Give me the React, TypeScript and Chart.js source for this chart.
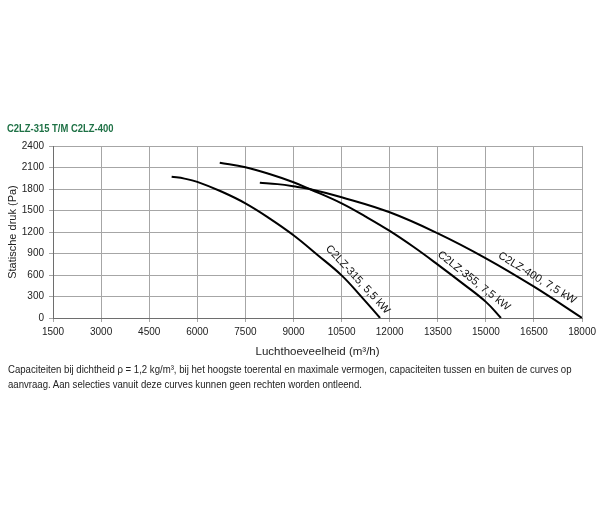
import React, { useEffect, useRef } from "react";
import { Chart, registerables } from "chart.js";

Chart.register(...registerables);

const FONT = "'Liberation Sans', Arial, sans-serif";

// Axis ticks
const xTickValues = [1500, 3000, 4500, 6000, 7500, 9000, 10500, 12000, 13500, 15000, 16500, 18000];
const yTickValues = [0, 300, 600, 900, 1200, 1500, 1800, 2100, 2400];

// Curve names
const curveNames = ["C2LZ-315, 5,5 kW", "C2LZ-355, 7,5 kW", "C2LZ-400, 7,5 kW"];

// C2LZ-315, 5,5 kW
const flow315 = [5200, 5600, 6000, 6750, 7500, 8250, 9000, 9750, 10500, 11100, 11700];
const pressure315 = [1971, 1945, 1900, 1765, 1600, 1391, 1155, 880, 595, 305, 0];

// C2LZ-355, 7,5 kW
const flow355 = [6700, 7500, 8250, 9000, 9500, 10500, 11250, 12000, 12750, 13500, 14250, 15000, 15470];
const pressure355 = [2167, 2103, 2010, 1895, 1800, 1600, 1415, 1215, 990, 745, 490, 225, 0];

// C2LZ-400, 7,5 kW
const flow400 = [7950, 8500, 9000, 9500, 10500, 12000, 13500, 15000, 16500, 18000];
const pressure400 = [1888, 1868, 1838, 1800, 1685, 1475, 1181, 833, 437, 0];

// Where along each curve its name is written (flow value)
const labelAnchorFlow = [10800, 14450, 16450];

const curves = [
  { flow: flow315, pressure: pressure315 },
  { flow: flow355, pressure: pressure355 },
  { flow: flow400, pressure: pressure400 },
];

function interp(xs: number[], ys: number[], x: number): number {
  if (x <= xs[0]) return ys[0];
  for (let i = 1; i < xs.length; i++) {
    if (x <= xs[i]) {
      const t = (x - xs[i - 1]) / (xs[i] - xs[i - 1]);
      return ys[i - 1] + t * (ys[i] - ys[i - 1]);
    }
  }
  return ys[ys.length - 1];
}

const curveLabelPlugin = {
  id: "curveLabels",
  afterDatasetsDraw(chart: any) {
    const { ctx } = chart;
    const xs = chart.scales.x;
    const ys = chart.scales.y;
    ctx.save();
    ctx.font = `11px ${FONT}`;
    ctx.fillStyle = "#111";
    ctx.textAlign = "center";
    ctx.textBaseline = "middle";
    curves.forEach((c, i) => {
      const ax = labelAnchorFlow[i];
      const d = 250;
      const v = interp(c.flow, c.pressure, ax);
      const v1 = interp(c.flow, c.pressure, ax - d);
      const v2 = interp(c.flow, c.pressure, ax + d);
      const px = xs.getPixelForValue(ax);
      const py = ys.getPixelForValue(v);
      const dx = xs.getPixelForValue(ax + d) - xs.getPixelForValue(ax - d);
      const dy = ys.getPixelForValue(v2) - ys.getPixelForValue(v1);
      const ang = Math.atan2(dy, dx);
      ctx.save();
      ctx.translate(px, py);
      ctx.rotate(ang);
      ctx.fillText(curveNames[i], 0, -9);
      ctx.restore();
    });
    ctx.restore();
  },
};

export default function App() {
  const canvasRef = useRef<HTMLCanvasElement | null>(null);

  useEffect(() => {
    if (!canvasRef.current) return;
    const chart = new Chart(canvasRef.current, {
      type: "line",
      data: {
        datasets: curves.map((c, i) => ({
          label: curveNames[i],
          data: c.flow.map((f, j) => ({ x: f, y: c.pressure[j] })),
          borderColor: "#000",
          borderWidth: 2,
          pointRadius: 0,
          fill: false,
          tension: 0.4,
        })),
      },
      options: {
        responsive: false,
        animation: false,
        devicePixelRatio: 1,
        layout: { padding: { left: 0, right: 17, top: 146, bottom: 167 } },
        plugins: {
          legend: { display: false },
          tooltip: { enabled: false },
          title: { display: false },
        },
        scales: {
          x: {
            type: "linear",
            min: 1500,
            max: 18000,
            afterBuildTicks: (scale: any) => {
              scale.ticks = xTickValues.map((v) => ({ value: v }));
            },
            afterFit: (scale: any) => {
              scale.height = 45;
            },
            ticks: {
              callback: (v: any) => String(v),
              color: "#222",
              font: { family: FONT, size: 10 },
              padding: 4,
              maxRotation: 0,
              autoSkip: false,
            },
            grid: { color: "#a6a6a6", lineWidth: 1, tickLength: 4 },
            border: { display: true, color: "#6e6e6e", width: 1 },
            title: {
              display: true,
              text: "Luchthoeveelheid (m³/h)",
              color: "#222",
              font: { family: FONT, size: 11.5 },
              padding: 4,
            },
          },
          y: {
            type: "linear",
            min: 0,
            max: 2400,
            afterBuildTicks: (scale: any) => {
              scale.ticks = yTickValues.map((v) => ({ value: v }));
            },
            afterFit: (scale: any) => {
              scale.width = 53;
            },
            ticks: {
              callback: (v: any) => String(v),
              color: "#222",
              font: { family: FONT, size: 10 },
              padding: 5,
              autoSkip: false,
            },
            grid: { color: "#a6a6a6", lineWidth: 1, tickLength: 4 },
            border: { display: true, color: "#6e6e6e", width: 1 },
            title: {
              display: true,
              text: "Statische druk (Pa)",
              color: "#222",
              font: { family: FONT, size: 11 },
              padding: 6,
            },
          },
        },
      },
      plugins: [curveLabelPlugin],
    });
    return () => chart.destroy();
  }, []);

  return (
    <div style={{ position: "absolute", left: 0, top: 0, width: 600, height: 530, background: "#fff" }}>
      <canvas ref={canvasRef} width={600} height={530} style={{ position: "absolute", left: 0, top: 0 }} />
      <div
        style={{
          position: "absolute",
          left: 7,
          top: 121,
          fontFamily: FONT,
          fontWeight: "bold",
          fontSize: 11.5,
          lineHeight: "15px",
          color: "#1e7145",
          whiteSpace: "nowrap",
          transform: "scaleX(0.82)",
          transformOrigin: "left top",
        }}
      >
        C2LZ-315 T/M C2LZ-400
      </div>
      <div
        style={{
          position: "absolute",
          left: 8,
          top: 362,
          fontFamily: FONT,
          fontSize: 11.5,
          lineHeight: "15px",
          color: "#222",
          whiteSpace: "nowrap",
          transform: "scaleX(0.835)",
          transformOrigin: "left top",
        }}
      >
        Capaciteiten bij dichtheid ρ = 1,2 kg/m³, bij het hoogste toerental en maximale vermogen, capaciteiten tussen en buiten de curves op
        <br />
        aanvraag. Aan selecties vanuit deze curves kunnen geen rechten worden ontleend.
      </div>
    </div>
  );
}
